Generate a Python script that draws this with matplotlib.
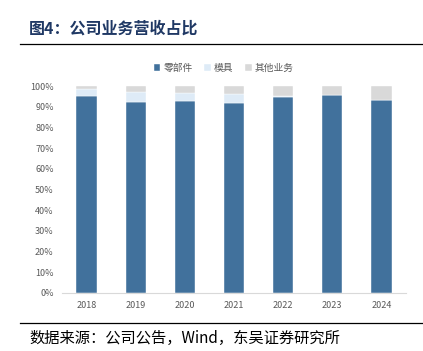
import numpy as np
from matplotlib import pyplot as plt
from matplotlib.lines import Line2D

plt.rcParams['font.family'] = ['Noto Sans CJK SC', 'DejaVu Sans']

years = ['2018', '2019', '2020', '2021', '2022', '2023', '2024']
parts = [95.3, 92.3, 92.9, 91.6, 94.5, 95.6, 93.4]
molds = [3.2, 5.0, 3.6, 4.5, 0.5, 0.0, 0.0]
other = [100 - p - m for p, m in zip(parts, molds)]

fig = plt.figure(figsize=(4.23, 3.51), dpi=100)
ax = fig.add_axes([62 / 423, 1 - 293 / 351, 344 / 423, 207 / 351])

x = np.arange(len(years))
p = np.array(parts) / 100
m = np.array(molds) / 100
o = np.array(other) / 100
w = 0.41
ax.bar(x, p, w, color='#41719c', edgecolor='white', linewidth=0.3, label='零部件')
ax.bar(x, m, w, bottom=p, color='#deebf7', edgecolor='white', linewidth=0.3, label='模具')
ax.bar(x, o, w, bottom=p + m, color='#d9d9d9', edgecolor='white', linewidth=0.3, label='其他业务')

ax.set_xlim(-0.5, len(years) - 0.5)
ax.set_ylim(0, 1)
ax.set_yticks(np.arange(0, 1.01, 0.1))
ax.set_yticklabels(['%d%%' % v for v in range(0, 101, 10)])
ax.set_xticks(x)
ax.set_xticklabels(years)
ax.tick_params(length=0, labelsize=6.5, colors='#595959', pad=6)
for s in ['top', 'right', 'left']:
    ax.spines[s].set_visible(False)
ax.spines['bottom'].set_color('#d9d9d9')
ax.spines['bottom'].set_linewidth(0.8)

ax.legend(loc='lower center', bbox_to_anchor=(0.47, 1.02), ncol=3, frameon=False,
          fontsize=7, handlelength=0.7, handleheight=0.7, handletextpad=0.3,
          columnspacing=1.2, labelcolor='#595959')

fig.text(29 / 423, 1 - 29 / 351, '图4：公司业务营收占比', fontsize=11.5, fontweight='bold',
         color='#1f3864', va='center', ha='left')
fig.add_artist(Line2D([20 / 423, 1], [1 - 44 / 351] * 2, color='black', lw=0.9))
fig.add_artist(Line2D([20 / 423, 1], [1 - 323 / 351] * 2, color='black', lw=0.9))
fig.text(29 / 423, 1 - 338 / 351, '数据来源：公司公告，Wind，东吴证券研究所', fontsize=11,
         color='black', va='center', ha='left')

fig.savefig('out.png', dpi=100)
